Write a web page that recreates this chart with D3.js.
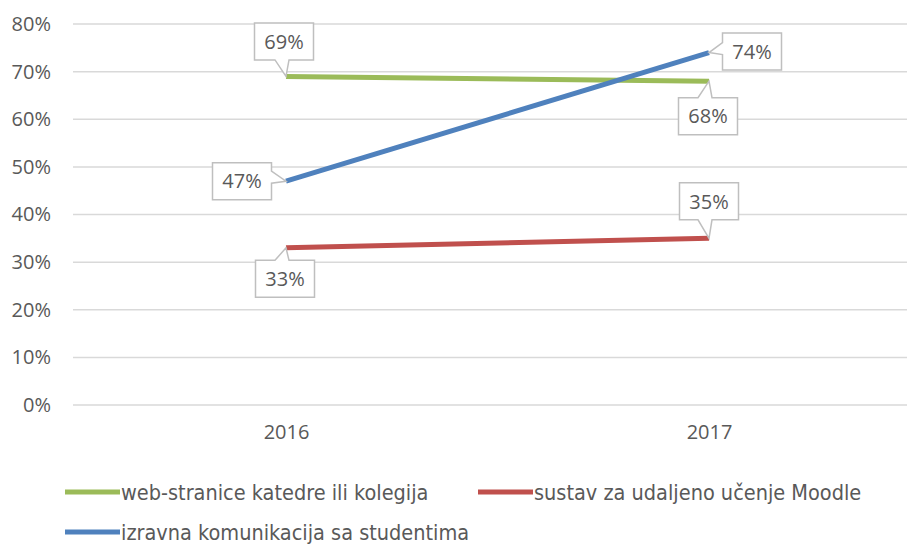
<!DOCTYPE html>
<html>
<head>
<meta charset="utf-8">
<script src="https://cdn.jsdelivr.net/npm/d3@7"></script>
<style>
  body { margin: 0; background: #fff; }
  svg { display: block; }
</style>
</head>
<body>
<svg width="907" height="544"></svg>
<script>
var years = ["2016", "2017"];
var seriesNames = [
  "web-stranice katedre ili kolegija",
  "sustav za udaljeno učenje Moodle",
  "izravna komunikacija sa studentima"
];
var webValues = [0.69, 0.68];
var moodleValues = [0.33, 0.35];
var directValues = [0.47, 0.74];
var yTicks = [0, 0.1, 0.2, 0.3, 0.4, 0.5, 0.6, 0.7, 0.8];

var colors = ["#9BBB59", "#C0504D", "#4F81BD"];
var textColor = "#595959";

// where each callout box sits relative to its point (dx, dy of box centre)
var labelOffsets = [
  [[-2, -35], [-1, 35]],
  [[-1, 31], [0, -37]],
  [[-44, 0], [43, -1]]
];

var series = [
  { name: seriesNames[0], values: webValues, color: colors[0], offs: labelOffsets[0] },
  { name: seriesNames[1], values: moodleValues, color: colors[1], offs: labelOffsets[1] },
  { name: seriesNames[2], values: directValues, color: colors[2], offs: labelOffsets[2] }
];

var svg = d3.select("svg");

var x = d3.scalePoint().domain(years).range([74.5, 920.5]).padding(0.5);
var y = d3.scaleLinear().domain([0, 0.8]).range([405, 24]);

// gridlines
svg.append("g").selectAll("line")
  .data(yTicks)
  .join("line")
  .attr("x1", 73)
  .attr("x2", 907)
  .attr("y1", function(d) { return y(d); })
  .attr("y2", function(d) { return y(d); })
  .attr("stroke", "#d9d9d9")
  .attr("stroke-width", 1.5);

// y axis labels
var yAxis = d3.axisLeft(y).tickValues(yTicks).tickFormat(d3.format(".0%")).tickSize(0).tickPadding(0);
var gy = svg.append("g").attr("transform", "translate(51,0)").call(yAxis);
gy.select(".domain").remove();
gy.selectAll("text")
  .attr("fill", textColor)
  .style("font-family", "'Open Sans', sans-serif")
  .style("font-size", "20px");

// x axis labels
var xAxis = d3.axisBottom(x).tickSize(0).tickPadding(0);
var gx = svg.append("g").attr("transform", "translate(0,425)").call(xAxis);
gx.select(".domain").remove();
gx.selectAll("text")
  .attr("fill", textColor)
  .style("font-family", "'Open Sans', sans-serif")
  .style("font-size", "20px");

// lines
var line = d3.line()
  .x(function(d, i) { return x(years[i]); })
  .y(function(d) { return y(d); });

svg.append("g").selectAll("path")
  .data(series)
  .join("path")
  .attr("d", function(s) { return line(s.values); })
  .attr("fill", "none")
  .attr("stroke", function(s) { return s.color; })
  .attr("stroke-width", 5);

// callout labels
function calloutPath(cx, cy, w, h, px, py) {
  var x0 = cx - w / 2, x1 = cx + w / 2, y0 = cy - h / 2, y1 = cy + h / 2;
  var dx = px - cx, dy = py - cy;
  var pts = [];
  if (Math.abs(dy) > Math.abs(dx)) {
    var c = Math.max(x0 + 12, Math.min(x1 - 12, px - 4));
    if (dy > 0) {
      pts = [[x0, y0], [x1, y0], [x1, y1], [c + 7, y1], [px, py], [c - 7, y1], [x0, y1]];
    } else {
      pts = [[x0, y0], [c - 7, y0], [px, py], [c + 7, y0], [x1, y0], [x1, y1], [x0, y1]];
    }
  } else {
    var m = Math.max(y0 + 10, Math.min(y1 - 10, py - 4));
    if (dx > 0) {
      pts = [[x0, y0], [x1, y0], [x1, m - 6], [px, py], [x1, m + 6], [x1, y1], [x0, y1]];
    } else {
      pts = [[x0, y0], [x1, y0], [x1, y1], [x0, y1], [x0, m + 6], [px, py], [x0, m - 6]];
    }
  }
  return "M" + pts.join("L") + "Z";
}

var labels = [];
series.forEach(function(s) {
  s.values.forEach(function(v, i) {
    labels.push({ v: v, px: x(years[i]), py: y(v), dx: s.offs[i][0], dy: s.offs[i][1] });
  });
});

var lg = svg.append("g").selectAll("g")
  .data(labels)
  .join("g");

lg.append("path")
  .attr("d", function(d) {
    return calloutPath(d.px + d.dx, d.py + d.dy, 59, 37, d.px, d.py);
  })
  .attr("fill", "#fff")
  .attr("stroke", "#bfbfbf")
  .attr("stroke-width", 1.5);

lg.append("text")
  .attr("x", function(d) { return d.px + d.dx; })
  .attr("y", function(d) { return d.py + d.dy; })
  .attr("dy", "0.36em")
  .attr("text-anchor", "middle")
  .attr("fill", textColor)
  .style("font-family", "'Open Sans', sans-serif")
  .style("font-size", "20px")
  .text(function(d) { return d3.format(".0%")(d.v); });

// legend
var legendPos = [[65, 492], [478, 492], [65, 532]];
var leg = svg.append("g").selectAll("g")
  .data(series)
  .join("g")
  .attr("transform", function(d, i) { return "translate(" + legendPos[i][0] + "," + legendPos[i][1] + ")"; });

leg.append("line")
  .attr("x1", 0).attr("x2", 55)
  .attr("y1", 0).attr("y2", 0)
  .attr("stroke", function(d) { return d.color; })
  .attr("stroke-width", 5);

leg.append("text")
  .attr("x", 56)
  .attr("dy", "0.35em")
  .attr("fill", textColor)
  .style("font-family", "'Liberation Sans Narrow', 'DejaVu Sans Condensed', sans-serif")
  .style("font-size", "21.5px")
  .text(function(d) { return d.name; });
</script>
</body>
</html>
